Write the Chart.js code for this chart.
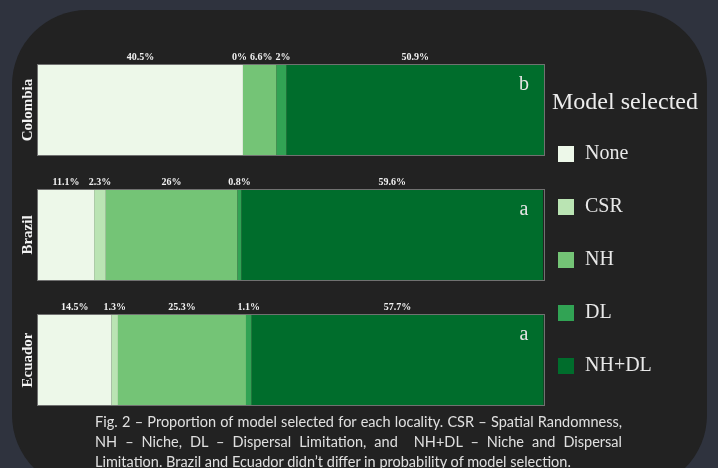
<!DOCTYPE html>
<html><head><meta charset="utf-8">
<script src="https://cdn.jsdelivr.net/npm/chart.js@4"></script>
<style>
html,body{margin:0;padding:0;width:718px;height:468px;overflow:hidden;background:#2f333e;}
#panel{position:absolute;left:12px;top:10px;width:695px;height:480px;background:#222222;border-radius:75px;}
#c{position:absolute;left:0;top:0;}
#caption{position:absolute;left:95px;top:412px;width:527px;font-family:Lato,"Open Sans",sans-serif;font-size:14.5px;color:#e0e0e0;line-height:20px;white-space:nowrap;}
#caption .j{text-align:justify;text-align-last:justify;white-space:normal;}
</style></head>
<body>
<div id="panel"></div>
<canvas id="c" width="718" height="468"></canvas>
<div id="caption">
<div class="j">Fig. 2 – Proportion of model selected for each locality. CSR – Spatial Randomness,</div>
<div class="j">NH – Niche, DL – Dispersal Limitation, and &nbsp;NH+DL – Niche and Dispersal</div>
<div>Limitation. Brazil and Ecuador didn’t differ in probability of model selection.</div>
</div>
<script>
const categories = ['Colombia', 'Brazil', 'Ecuador'];
const models = ['None', 'CSR', 'NH', 'DL', 'NH+DL'];
const noneVals = [40.5, 11.1, 14.5];
const csrVals = [0, 2.3, 1.3];
const nhVals = [6.6, 26, 25.3];
const dlVals = [2, 0.8, 1.1];
const nhdlVals = [50.9, 59.6, 57.7];
const letters = ['b', 'a', 'a'];
const colors = ['#edf8e9', '#bae4b3', '#74c476', '#31a354', '#006d2c'];

const seriesVals = [noneVals, csrVals, nhVals, dlVals, nhdlVals];
const datasets = models.map((m, i) => ({
  label: m,
  data: seriesVals[i],
  backgroundColor: colors[i],
  borderWidth: 0,
  barPercentage: 0.72,
  categoryPercentage: 1.0
}));

const SERIF = '"Liberation Serif", "DejaVu Serif", serif';

const decor = {
  id: 'decor',
  afterDatasetsDraw(chart) {
    const ctx = chart.ctx;
    const xs = chart.scales.x;
    const x0 = xs.getPixelForValue(0), x1 = xs.getPixelForValue(100);
    const metas = chart.data.datasets.map((d, i) => chart.getDatasetMeta(i));
    ctx.save();
    categories.forEach((cat, ci) => {
      const el0 = metas[0].data[ci];
      const h = el0.height;
      const top = el0.y - h / 2;
      // frame
      ctx.strokeStyle = 'rgba(140,140,140,0.75)';
      ctx.lineWidth = 1;
      ctx.strokeRect(Math.round(x0) - 0.5, Math.round(top) - 0.5, Math.round(x1 - x0) + 1, Math.round(h) + 1);
      // percentage labels with simple repel
      ctx.font = 'bold 10px ' + SERIF;
      const labs = metas.map((m, di) => {
        const el = m.data[ci];
        const v = chart.data.datasets[di].data[ci];
        const t = v + '%';
        return { t, p: (el.x + el.base) / 2, w: ctx.measureText(t).width };
      });
      const gap = 3;
      for (let it = 0; it < 100; it++) {
        for (let j = 0; j < labs.length - 1; j++) {
          const a = labs[j], b = labs[j + 1];
          const ov = (a.p + a.w / 2 + gap) - (b.p - b.w / 2);
          if (ov > 0) { a.p -= ov / 2; b.p += ov / 2; }
        }
      }
      ctx.fillStyle = '#f2f2f2';
      ctx.textAlign = 'center';
      ctx.textBaseline = 'middle';
      labs.forEach(l => ctx.fillText(l.t, l.p, top - 8));
      // letters
      ctx.font = '20px ' + SERIF;
      ctx.fillStyle = '#e6e6e6';
      ctx.fillText(letters[ci], x1 - 20, top + 20);
      // facet label
      ctx.save();
      ctx.translate(28, el0.y);
      ctx.rotate(-Math.PI / 2);
      ctx.font = 'bold 15px ' + SERIF;
      ctx.fillStyle = '#f2f2f2';
      ctx.fillText(cat, 0, 0);
      ctx.restore();
    });
    // legend
    ctx.textAlign = 'left';
    ctx.textBaseline = 'middle';
    ctx.font = '24px ' + SERIF;
    ctx.fillStyle = '#ececec';
    ctx.fillText('Model selected', 552, 103);
    chart.data.datasets.forEach((d, i) => {
      const cy = 154 + i * 53;
      ctx.fillStyle = d.backgroundColor;
      ctx.fillRect(558, cy - 8, 16, 16);
      ctx.font = '20px ' + SERIF;
      ctx.fillStyle = '#e8e8e8';
      ctx.fillText(d.label, 585, cy);
    });
    ctx.restore();
  }
};

new Chart(document.getElementById('c'), {
  type: 'bar',
  data: { labels: categories, datasets },
  options: {
    indexAxis: 'y',
    responsive: false,
    animation: false,
    layout: { padding: { left: 38, right: 174, top: 47.5, bottom: 45.5 } },
    scales: {
      x: { stacked: true, min: 0, max: 100, display: false },
      y: { stacked: true, display: false }
    },
    plugins: { legend: { display: false }, tooltip: { enabled: false } }
  },
  plugins: [decor]
});
</script>
</body></html>
